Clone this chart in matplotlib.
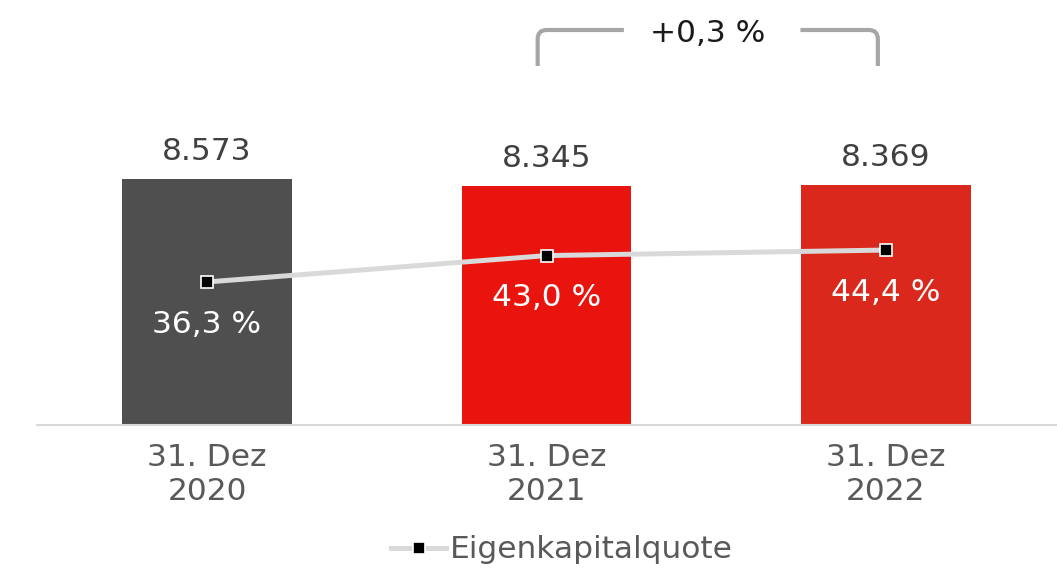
import numpy as np
import matplotlib
matplotlib.use("Agg")
import matplotlib.pyplot as plt
from matplotlib.path import Path
from matplotlib.patches import PathPatch
import matplotlib.transforms as mtransforms

# Eigenkapital (Mio. EUR) und Eigenkapitalquote (%)
categories = ["31. Dez\n2020", "31. Dez\n2021", "31. Dez\n2022"]
equity = [8573, 8345, 8369]
ratio = [36.3, 43.0, 44.4]
bar_colors = ["#4f4f4f", "#e9140d", "#da291c"]

plt.rcParams["font.family"] = "DejaVu Sans"
FS = 22.5

W, H = 1057, 569
fig = plt.figure(figsize=(W / 100, H / 100), dpi=100)
# plot area: x 37..1056 px, y 0..425 px (from top)
ax = fig.add_axes([37.25 / W, (H - 425) / H, 1018.5 / W, 425 / H])
ax2 = ax.twinx()

x = np.arange(len(categories))
ax.bar(x, equity, width=0.5, color=bar_colors, zorder=2)
ax.set_xlim(-0.5, 2.5)
ax.set_ylim(0, 425 / (246 / 8573))
ax2.set_ylim(0, 425 / 3.94)

for xi, v in zip(x, equity):
    ax.annotate(f"{v:,}".replace(",", "."), (xi, v), xytext=(0, 13.5),
                textcoords="offset points", ha="center", va="baseline",
                fontsize=FS, color="#404040")

ax2.plot(x, ratio, color="#d9d9d9", lw=3.6, marker="s", markersize=8,
         markerfacecolor="black", markeredgecolor="white", markeredgewidth=1.2,
         label="Eigenkapitalquote", zorder=3)
for xi, r in zip(x, ratio):
    ax2.annotate(f"{r:.1f}".replace(".", ",") + " %", (xi, r), xytext=(0, -36.4),
                 textcoords="offset points", ha="center", va="baseline",
                 fontsize=FS, color="white")

# axes styling
for a in (ax, ax2):
    for s in a.spines.values():
        s.set_visible(False)
    a.set_yticks([])
ax.spines["bottom"].set_visible(True)
ax.spines["bottom"].set_color("#d9d9d9")
ax.spines["bottom"].set_linewidth(1.5)
ax.set_xticks(x)
ax.set_xticklabels(categories, fontsize=FS, color="#595959", linespacing=1.22)
ax.tick_params(axis="x", length=0, pad=13)

# bracket with change between 2021 and 2022
change = (equity[2] / equity[1] - 1) * 100
trans = mtransforms.blended_transform_factory(ax.transData, ax.transAxes)
xl, xr = 0.974, 1.976
y_top, y_bot = (425 - 30) / 425, (425 - 66) / 425
rx, ry = 9 / 339.5, 9 / 425
gap_l, gap_r = 1.228, 1.748
left = Path([(xl, y_bot), (xl, y_top - ry), (xl, y_top), (xl + rx, y_top), (gap_l, y_top)],
            [Path.MOVETO, Path.LINETO, Path.CURVE3, Path.CURVE3, Path.LINETO])
right = Path([(gap_r, y_top), (xr - rx, y_top), (xr, y_top), (xr, y_top - ry), (xr, y_bot)],
             [Path.MOVETO, Path.LINETO, Path.CURVE3, Path.CURVE3, Path.LINETO])
for p in (left, right):
    ax.add_patch(PathPatch(p, transform=trans, fill=False, edgecolor="#a6a6a6",
                           lw=3, capstyle="butt", clip_on=False))
ax.text((xl + xr) / 2, y_top, f"+{change:.1f}".replace(".", ",") + " %",
        transform=trans, ha="center", va="center_baseline", fontsize=FS, color="#1a1a1a")

leg = fig.legend(loc="center", bbox_to_anchor=(562 / W, 1 - 550 / H), frameon=False,
                 fontsize=FS, handlelength=1.75, handletextpad=0.12)
for t in leg.get_texts():
    t.set_color("#595959")

fig.savefig("out.png", dpi=100, facecolor="white")
